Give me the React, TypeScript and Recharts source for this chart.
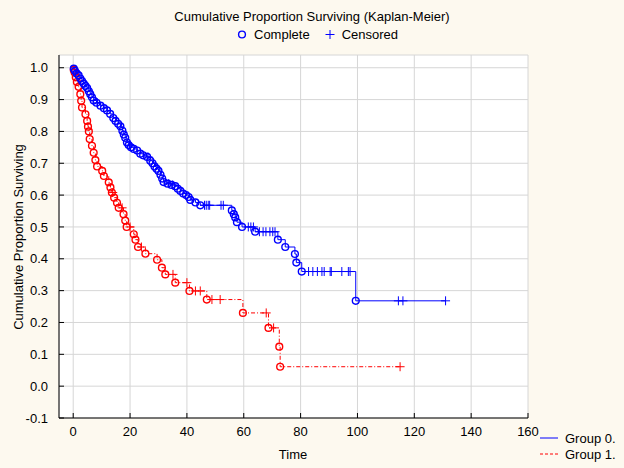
import React from "react";
import { ComposedChart, Line, Scatter, XAxis, YAxis, CartesianGrid } from "recharts";

// axis ticks
const xTicks = [0, 20, 40, 60, 80, 100, 120, 140, 160];
const yTicks = [-0.1, 0, 0.1, 0.2, 0.3, 0.4, 0.5, 0.6, 0.7, 0.8, 0.9, 1.0];

// Group 0 (complete = event times with survival after the event)
const group0Events = [
  { t: 0.2, s: 0.997 }, { t: 0.6, s: 0.99 }, { t: 1.2, s: 0.982 }, { t: 1.9, s: 0.976 },
  { t: 2.5, s: 0.966 }, { t: 3.1, s: 0.958 }, { t: 3.7, s: 0.95 }, { t: 4.3, s: 0.943 },
  { t: 4.9, s: 0.936 }, { t: 5.5, s: 0.926 }, { t: 6.0, s: 0.917 }, { t: 6.6, s: 0.907 },
  { t: 7.2, s: 0.897 }, { t: 8.2, s: 0.89 }, { t: 9.6, s: 0.881 }, { t: 10.8, s: 0.873 },
  { t: 11.9, s: 0.866 }, { t: 13.0, s: 0.855 }, { t: 14.1, s: 0.842 }, { t: 14.9, s: 0.833 },
  { t: 15.8, s: 0.824 }, { t: 16.6, s: 0.816 }, { t: 17.3, s: 0.802 }, { t: 17.8, s: 0.79 },
  { t: 18.3, s: 0.78 }, { t: 18.9, s: 0.765 }, { t: 19.5, s: 0.757 }, { t: 20.3, s: 0.75 },
  { t: 21.3, s: 0.745 }, { t: 22.5, s: 0.74 }, { t: 23.6, s: 0.73 }, { t: 24.6, s: 0.725 },
  { t: 26.0, s: 0.72 }, { t: 27.1, s: 0.708 }, { t: 27.9, s: 0.7 }, { t: 28.6, s: 0.69 },
  { t: 29.3, s: 0.683 }, { t: 30.0, s: 0.676 }, { t: 30.7, s: 0.664 }, { t: 31.3, s: 0.652 },
  { t: 31.8, s: 0.641 }, { t: 33.2, s: 0.636 }, { t: 34.6, s: 0.632 }, { t: 35.9, s: 0.628 },
  { t: 36.8, s: 0.62 }, { t: 37.7, s: 0.613 }, { t: 38.7, s: 0.605 }, { t: 39.7, s: 0.6 },
  { t: 40.6, s: 0.594 }, { t: 41.2, s: 0.585 }, { t: 43.0, s: 0.577 }, { t: 44.7, s: 0.568 },
  { t: 55.8, s: 0.552 }, { t: 56.5, s: 0.54 }, { t: 57.0, s: 0.53 }, { t: 57.6, s: 0.515 },
  { t: 59.4, s: 0.5 }, { t: 64.0, s: 0.485 }, { t: 72.0, s: 0.46 }, { t: 74.6, s: 0.437 },
  { t: 78.0, s: 0.415 }, { t: 78.5, s: 0.388 }, { t: 80.4, s: 0.36 }, { t: 99.4, s: 0.268 },
];
const group0Censored = [
  8.5, 19.8, 26.3, 33.6, 35.0, 46.2, 46.8, 47.5, 48.0, 52.0, 52.8, 61.6, 62.5, 63.4,
  65.5, 66.8, 67.8, 69.2, 70.2, 71.0, 82.8, 84.3, 85.9, 87.5, 88.3, 90.4, 90.8, 94.5,
  96.8, 97.4, 114.4, 116.0, 131.0,
];

// Group 1
const group1Events = [
  { t: 0.2, s: 0.993 }, { t: 0.5, s: 0.985 }, { t: 0.9, s: 0.97 }, { t: 1.3, s: 0.955 },
  { t: 1.9, s: 0.94 }, { t: 2.5, s: 0.917 }, { t: 2.8, s: 0.896 }, { t: 3.1, s: 0.875 },
  { t: 4.3, s: 0.854 }, { t: 4.9, s: 0.833 }, { t: 5.2, s: 0.815 }, { t: 5.5, s: 0.8 },
  { t: 5.8, s: 0.776 }, { t: 6.6, s: 0.755 }, { t: 7.2, s: 0.733 }, { t: 7.8, s: 0.71 },
  { t: 8.4, s: 0.69 }, { t: 10.2, s: 0.676 }, { t: 10.8, s: 0.66 }, { t: 12.5, s: 0.64 },
  { t: 13.1, s: 0.624 }, { t: 13.6, s: 0.608 }, { t: 14.4, s: 0.592 }, { t: 15.4, s: 0.576 },
  { t: 16.0, s: 0.56 }, { t: 17.7, s: 0.54 }, { t: 18.3, s: 0.52 }, { t: 18.8, s: 0.5 },
  { t: 21.3, s: 0.477 }, { t: 21.9, s: 0.46 }, { t: 22.8, s: 0.437 }, { t: 25.4, s: 0.416 },
  { t: 29.5, s: 0.397 }, { t: 31.2, s: 0.372 }, { t: 32.4, s: 0.351 }, { t: 35.9, s: 0.325 },
  { t: 40.9, s: 0.299 }, { t: 47.0, s: 0.272 }, { t: 59.7, s: 0.23 }, { t: 68.7, s: 0.183 },
  { t: 72.5, s: 0.124 }, { t: 72.8, s: 0.061 },
];
const group1Censored = [13.9, 17.2, 20.0, 24.0, 35.1, 40.0, 43.0, 44.7, 48.8, 51.7, 67.9, 70.5, 115.0];

type Pt = { t: number; s: number };

const BLUE = "#0000ff";
const RED = "#ff0000";
const FONT = "'Liberation Sans', Arial, sans-serif";
const FS = 13;

const survivalAt = (events: Pt[], t: number) => {
  let s = 1;
  for (const e of events) if (e.t <= t) s = e.s;
  return s;
};
const censorPts = (events: Pt[], times: number[]) => times.map((t) => ({ t, s: survivalAt(events, t) }));
const stepPts = (events: Pt[], cens: Pt[]) => [{ t: 0, s: 1 }, ...[...events, ...cens].sort((a, b) => a.t - b.t)];

const cens0 = censorPts(group0Events, group0Censored);
const cens1 = censorPts(group1Events, group1Censored);
const step0 = stepPts(group0Events, cens0);
const step1 = stepPts(group1Events, cens1);

const circleShape = (color: string) => (p: any) => (
  <circle cx={p.cx} cy={p.cy} r={3.4} fill="none" stroke={color} strokeWidth={1.4} />
);
const plusShape = (color: string) => (p: any) => (
  <path d={`M${p.cx - 4.5},${p.cy}H${p.cx + 4.5}M${p.cx},${p.cy - 4.5}V${p.cy + 4.5}`} stroke={color} strokeWidth={1} fill="none" />
);

// inward tick marks, labels outside
const BottomTick = ({ x, y, payload }: any) => (
  <g>
    <line x1={x} x2={x} y1={y - 9} y2={y - 14} stroke="#000" />
    <text x={x} y={y} dy="0.71em" textAnchor="middle" fontSize={FS} fontFamily={FONT} fill="#000">{payload.value}</text>
  </g>
);
const TopTick = ({ x, y }: any) => <line x1={x} x2={x} y1={y} y2={y + 5} stroke="#000" />;
const LeftTick = ({ x, y, payload }: any) => (
  <g>
    <line x1={x + 11} x2={x + 16} y1={y} y2={y} stroke="#000" />
    <text x={x} y={y} dy="0.355em" textAnchor="end" fontSize={FS} fontFamily={FONT} fill="#000">{Number(payload.value).toFixed(1)}</text>
  </g>
);
const RightTick = ({ x, y }: any) => <line x1={x} x2={x - 5} y1={y} y2={y} stroke="#000" />;

const txt: React.CSSProperties = { position: "absolute", fontFamily: FONT, fontSize: FS, color: "#000", whiteSpace: "nowrap", lineHeight: "15px" };

export default function App() {
  return (
    <div style={{ position: "absolute", left: 0, top: 0, width: 624, height: 468, background: "#fdf9ef", overflow: "hidden" }}>
      <ComposedChart width={624} height={468} margin={{ top: 55, right: 96, bottom: 0, left: 0 }}>
        <CartesianGrid xAxisId="b" yAxisId="l" stroke="#d6d6d6" fill="#ffffff" />
        <XAxis xAxisId="b" dataKey="t" type="number" domain={[-5, 160]} ticks={xTicks} interval={0} allowDataOverflow
          height={50} tickSize={0} tickMargin={9} tickLine={false} axisLine={{ stroke: "#000" }} tick={<BottomTick />} />
        <XAxis xAxisId="t" orientation="top" type="number" domain={[-5, 160]} ticks={xTicks} interval={0} allowDataOverflow
          height={0} tickSize={0} tickMargin={0} tickLine={false} axisLine={{ stroke: "#000" }} tick={<TopTick />} />
        <YAxis yAxisId="l" dataKey="s" type="number" domain={[-0.1, 1.04]} ticks={yTicks} interval={0} allowDataOverflow
          width={59} tickSize={0} tickMargin={11} tickLine={false} axisLine={{ stroke: "#000" }} tick={<LeftTick />} />
        <YAxis yAxisId="r" orientation="right" type="number" domain={[-0.1, 1.04]} ticks={yTicks} interval={0} allowDataOverflow
          width={0} tickSize={0} tickMargin={0} tickLine={false} axisLine={{ stroke: "#000" }} tick={<RightTick />} />
        <Line xAxisId="b" yAxisId="l" data={step1} dataKey="s" type="stepAfter" stroke={RED} strokeWidth={1}
          strokeDasharray="4 2 1 2" dot={false} activeDot={false} isAnimationActive={false} />
        <Line xAxisId="b" yAxisId="l" data={step0} dataKey="s" type="stepAfter" stroke={BLUE} strokeWidth={1}
          dot={false} activeDot={false} isAnimationActive={false} />
        <Scatter xAxisId="b" yAxisId="l" data={group1Events} dataKey="s" shape={circleShape(RED)} isAnimationActive={false} />
        <Scatter xAxisId="b" yAxisId="l" data={cens1} dataKey="s" shape={plusShape(RED)} isAnimationActive={false} />
        <Scatter xAxisId="b" yAxisId="l" data={group0Events} dataKey="s" shape={circleShape(BLUE)} isAnimationActive={false} />
        <Scatter xAxisId="b" yAxisId="l" data={cens0} dataKey="s" shape={plusShape(BLUE)} isAnimationActive={false} />
      </ComposedChart>

      {/* title and marker legend */}
      <div style={{ ...txt, left: 0, width: 624, top: 9, textAlign: "center" }}>Cumulative Proportion Surviving (Kaplan-Meier)</div>
      <div style={{ ...txt, left: 236, top: 27, display: "flex", alignItems: "center" }}>
        <svg width={12} height={15}><circle cx={6} cy={7.5} r={3.4} fill="none" stroke={BLUE} strokeWidth={1.4} /></svg>
        <span style={{ marginLeft: 6 }}>Complete</span>
        <svg width={12} height={15} style={{ marginLeft: 14 }}><path d="M1.5,7.5H10.5M6,3V12" stroke={BLUE} strokeWidth={1} /></svg>
        <span style={{ marginLeft: 6 }}>Censored</span>
      </div>

      {/* axis titles */}
      <div style={{ ...txt, left: 293, top: 447, transform: "translateX(-50%)" }}>Time</div>
      <div style={{ ...txt, left: 18, top: 237, transform: "translate(-50%, -50%) rotate(-90deg)" }}>Cumulative Proportion Surviving</div>

      {/* group legend */}
      <svg style={{ position: "absolute", left: 538, top: 430 }} width={22} height={30}>
        <line x1={2} x2={20} y1={8} y2={8} stroke={BLUE} strokeWidth={1} />
        <line x1={2} x2={20} y1={24} y2={24} stroke={RED} strokeWidth={1} strokeDasharray="3 2" />
      </svg>
      <div style={{ ...txt, left: 565, top: 431 }}>Group 0.</div>
      <div style={{ ...txt, left: 565, top: 447 }}>Group 1.</div>
    </div>
  );
}
